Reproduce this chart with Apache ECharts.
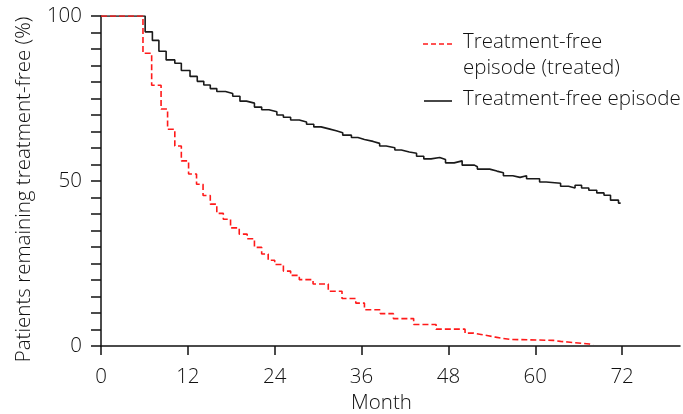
<!DOCTYPE html>
<html>
<head>
<meta charset="utf-8">
<script src="https://cdn.jsdelivr.net/npm/echarts@6/dist/echarts.min.js"></script>
<style>html,body{margin:0;padding:0;background:#fff}#c{width:683px;height:414px}</style>
</head>
<body>
<div id="c"></div>
<script>
// Step points: [month, % remaining after that month]
const treatedName = 'Treatment-free episode (treated)';
const treatedData = [
  [0,100],[5.8,88.7],[7.0,79.0],[8.3,71.8],[9.2,65.7],[10.2,60.6],[11.1,56.1],[12.1,52.1],
  [13.2,49.0],[14.1,45.6],[15.1,43.0],[16.0,40.2],[16.9,38.4],[17.9,35.8],[19.1,33.9],
  [20.2,32.5],[21.2,29.9],[22.2,27.9],[23.1,26.0],[24.0,24.7],[25.2,22.7],[26.2,21.4],
  [27.4,20.1],[29.3,18.8],[31.4,16.6],[33.3,14.4],[35.2,13.0],[36.4,11.0],[38.6,9.8],
  [40.4,8.3],[43.2,6.5],[46.3,5.1],[50.3,3.9],[51.5,3.5],[52.5,3.1],[53.5,2.7],[54.5,2.3],
  [55.5,2.0],[56.5,1.7],[62.5,1.4],[63.5,1.2],[64.5,1.0],[65.5,0.8],[66.5,0.6],[67.5,0.4],[68.0,0.4]
];
const episodeName = 'Treatment-free episode';
const episodeData = [
  [0,100],[6.1,95.2],[7.1,92.6],[8.0,89.3],[9.0,86.7],[10.2,85.7],[11.1,83.5],[12.3,81.7],
  [13.3,80.2],[14.2,79.1],[15.1,78.0],[16.0,77.1],[17.2,76.5],[18.2,75.7],[19.2,74.2],
  [20.1,73.6],[21.2,72.4],[22.2,71.6],[23.2,71.0],[24.3,70.0],[25.2,69.3],[26.2,68.5],
  [27.4,67.9],[28.4,67.2],[29.4,66.4],[30.4,65.8],[31.5,65.2],[32.5,64.6],[33.4,63.9],
  [34.6,63.2],[35.5,62.6],[36.4,62.0],[37.6,61.4],[38.5,60.6],[39.4,60.1],[40.6,59.4],
  [41.5,58.8],[42.6,58.4],[43.6,57.5],[44.6,56.7],[45.6,57.1],[46.8,56.5],[47.6,55.5],
  [48.8,56.1],[49.9,54.8],[51.6,54.3],[52.0,53.6],[53.7,53.0],[54.7,52.5],[55.6,51.6],
  [56.9,51.1],[57.9,51.6],[58.8,50.7],[60.6,49.7],[61.5,49.3],[63.5,48.4],[64.6,47.9],
  [65.5,48.7],[66.4,47.9],[67.4,47.2],[68.5,46.4],[69.5,45.7],[70.4,44.2],[71.5,43.3],[71.8,43.3]
];
const xTicks = [0,12,24,36,48,60,72];
const yLabels = [0,50,100];
const xTitle = 'Month';
const yTitle = 'Patients remaining treatment-free (%)';

const FONT = 'Open Sans';
const FW = 300;
const FS = 20.5;
const TXT = '#111111';
const chart = echarts.init(document.getElementById('c'), null, {renderer:'canvas'});
chart.setOption({
  animation: false,
  grid: {left: 101, right: 3, top: 16, bottom: 68, containLabel: false, outerBoundsMode: 'none'},
  xAxis: {
    type: 'value', min: 0, max: 80,
    name: xTitle, nameLocation: 'middle', nameGap: 46,
    nameTextStyle: {fontFamily: FONT, fontWeight: FW, fontSize: FS, color: TXT, padding: [0, 18, 0, 0]},
    axisLine: {lineStyle: {color: TXT, width: 1.5}},
    axisTick: {show: true, length: 9, customValues: xTicks, lineStyle: {color: TXT, width: 1.5}},
    axisLabel: {customValues: xTicks, fontFamily: FONT, fontWeight: FW, fontSize: FS, color: TXT, margin: 21},
    splitLine: {show: false}
  },
  yAxis: {
    type: 'value', min: 0, max: 100, interval: 5,
    name: yTitle, nameLocation: 'middle', nameGap: 66, nameRotate: 90,
    nameTextStyle: {fontFamily: FONT, fontWeight: FW, fontSize: FS, color: TXT, padding: [0, 17, 0, 0]},
    axisLine: {show: true, lineStyle: {color: TXT, width: 1.5}},
    axisTick: {show: true, length: 10, lineStyle: {color: TXT, width: 1.5}},
    axisLabel: {customValues: yLabels, fontFamily: FONT, fontWeight: FW, fontSize: FS, color: TXT, margin: 19},
    splitLine: {show: false}
  },
  series: [
    {name: episodeName, type: 'line', step: 'end', showSymbol: false, symbol: 'none',
     data: episodeData, lineStyle: {color: '#1a1a1a', width: 1.6}, z: 2},
    {name: treatedName, type: 'line', step: 'end', showSymbol: false, symbol: 'none',
     data: treatedData, lineStyle: {color: '#ff1a1a', width: 1.6, type: [6, 3]}, z: 3}
  ],
  graphic: [
    {type: 'line', shape: {x1: 423, y1: 44, x2: 452, y2: 44}, style: {stroke: '#ff1a1a', lineWidth: 1.6, lineDash: [5, 3]}},
    {type: 'text', left: 463, top: 29, style: {text: 'Treatment-free\nepisode (treated)', font: '300 20.5px "Open Sans"', fill: TXT, lineHeight: 26}},
    {type: 'line', shape: {x1: 424, y1: 101, x2: 452, y2: 101}, style: {stroke: '#1a1a1a', lineWidth: 1.6}},
    {type: 'text', left: 463, top: 86, style: {text: episodeName, font: '300 20.5px "Open Sans"', fill: TXT, lineHeight: 26}}
  ]
});
</script>
</body>
</html>
